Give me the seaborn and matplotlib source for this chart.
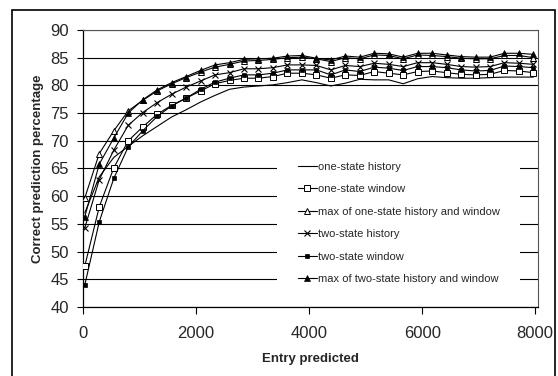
import numpy as np
import pandas as pd
import matplotlib
matplotlib.use("Agg")
import matplotlib.pyplot as plt
from matplotlib.patches import Rectangle
import seaborn as sns

sns.set_theme(style="white")
plt.rcParams['font.family'] = ['Liberation Sans', 'DejaVu Sans']

entries = [32 + 256 * i for i in range(32)]

one_state_history = [57.0, 63.5, 67.0, 69.0, 70.9, 72.6, 74.3, 75.6, 77.0, 78.2, 79.3, 79.7,
                     79.9, 80.1, 80.5, 81.0, 80.5, 79.9, 80.4, 81.1, 81.0, 81.0, 80.3, 81.2,
                     81.6, 81.4, 81.3, 81.3, 81.4, 81.5, 81.5, 81.5]
one_state_window = [47.4, 58.1, 65.1, 70.0, 72.5, 74.8, 76.4, 77.7, 79.0, 80.3, 80.9, 81.3,
                    81.3, 81.6, 82.2, 82.2, 81.9, 81.3, 81.9, 81.8, 82.5, 82.2, 81.9, 82.5,
                    82.6, 82.3, 82.0, 81.9, 82.0, 82.7, 82.6, 82.3]
max_one_state = [59.7, 67.7, 71.8, 75.4, 77.3, 79.0, 80.3, 81.4, 82.4, 83.3, 83.8, 84.4,
                 84.5, 84.7, 85.0, 85.1, 84.8, 84.3, 85.0, 84.8, 85.5, 85.4, 84.8, 85.5,
                 85.4, 85.2, 84.9, 84.8, 84.8, 85.4, 85.4, 85.0]
two_state_history = [54.3, 63.0, 68.3, 72.8, 75.1, 76.9, 78.4, 79.7, 80.8, 81.9, 82.3, 83.0,
                     83.0, 83.2, 83.7, 83.7, 83.6, 82.8, 83.6, 83.4, 84.0, 83.8, 83.4, 84.1,
                     84.1, 83.8, 83.4, 83.3, 83.4, 84.1, 84.0, 83.8]
two_state_window = [44.0, 55.4, 63.2, 68.9, 71.8, 74.4, 76.3, 77.7, 79.3, 80.6, 81.3, 81.9,
                    81.9, 82.2, 82.8, 82.8, 82.8, 81.9, 82.8, 82.5, 83.3, 83.1, 82.7, 83.4,
                    83.4, 83.2, 82.8, 82.6, 82.7, 83.5, 83.4, 83.2]
max_two_state = [56.3, 65.8, 70.5, 75.0, 77.4, 79.2, 80.5, 81.6, 82.7, 83.7, 84.1, 84.7,
                 84.8, 84.9, 85.3, 85.4, 84.9, 84.6, 85.3, 85.1, 85.8, 85.7, 85.1, 85.8,
                 85.8, 85.5, 85.2, 85.1, 85.1, 85.8, 85.8, 85.6]

series_names = ["one-state history", "one-state window", "max of one-state history and window",
                "two-state history", "two-state window", "max of two-state history and window"]
series_values = [one_state_history, one_state_window, max_one_state,
                 two_state_history, two_state_window, max_two_state]

x_ticks = [0, 2000, 4000, 6000, 8000]
y_ticks = [40, 45, 50, 55, 60, 65, 70, 75, 80, 85, 90]

styles = [
    dict(marker=None),
    dict(marker='s', markersize=3.8, markerfacecolor='white', markeredgecolor='black', markeredgewidth=0.7),
    dict(marker='^', markersize=3.8, markerfacecolor='white', markeredgecolor='black', markeredgewidth=0.7),
    dict(marker='x', markersize=3.8, markeredgecolor='black', markeredgewidth=0.8),
    dict(marker='s', markersize=3.5, markerfacecolor='black', markeredgecolor='black', markeredgewidth=0.5),
    dict(marker='^', markersize=3.8, markerfacecolor='black', markeredgecolor='black', markeredgewidth=0.5),
]

W, H = 558, 376
fig = plt.figure(figsize=(W / 100, H / 100), dpi=100)
fig.patch.set_facecolor('white')
left, right, top, bottom = 83, 537.5, 30, 307
ax = fig.add_axes([left / W, 1 - bottom / H, (right - left) / W, (bottom - top) / H])
ax.set_facecolor('white')

for name, vals, st in zip(series_names, series_values, styles):
    df = pd.DataFrame({"entry": entries, "pct": vals})
    sns.lineplot(data=df, x="entry", y="pct", ax=ax, color='black', linewidth=0.8,
                 label=name, zorder=3, **st)

ax.set_xlim(0, 8040)
ax.set_ylim(40, 90)
ax.set_xticks(x_ticks)
ax.set_yticks(y_ticks)
ax.set_xticklabels([str(t) for t in x_ticks], fontsize=12)
ax.set_yticklabels([str(t) for t in y_ticks], fontsize=12)
ax.yaxis.grid(True, color='black', linewidth=0.8)
ax.xaxis.grid(False)
ax.set_axisbelow(True)
ax.tick_params(axis='y', direction='out', length=4, width=0.8, color='black', pad=6, left=True)
ax.tick_params(axis='x', direction='out', length=5, width=0.8, color='black', pad=9, bottom=True)
for s in ['left', 'bottom']:
    ax.spines[s].set_color('black')
    ax.spines[s].set_linewidth(0.9)
for s in ['top', 'right']:
    ax.spines[s].set_color('#555555')
    ax.spines[s].set_linewidth(0.8)

ax.set_xlabel("Entry predicted", fontsize=9.5, fontweight='bold', labelpad=8)
ax.set_ylabel("Correct prediction percentage", fontsize=9.5, fontweight='bold', labelpad=5)

# white legend background that interrupts the gridlines
ax.add_patch(Rectangle((0.427, 0.043), 0.534, 0.524, transform=ax.transAxes,
                       facecolor='white', edgecolor='none', zorder=1))

leg = ax.legend(loc='upper left', bbox_to_anchor=(0.473, 0.525), borderaxespad=0,
                fontsize=8, frameon=False, handlelength=1.7,
                handletextpad=0.12, labelspacing=1.13, borderpad=0)
leg.set_zorder(5)

fig.patches.append(Rectangle((12 / W, -0.01), (555 - 12) / W, 1 - 10 / H + 0.01, transform=fig.transFigure,
                             fill=False, edgecolor='black', linewidth=1.2))

fig.savefig("out.png", dpi=100)
